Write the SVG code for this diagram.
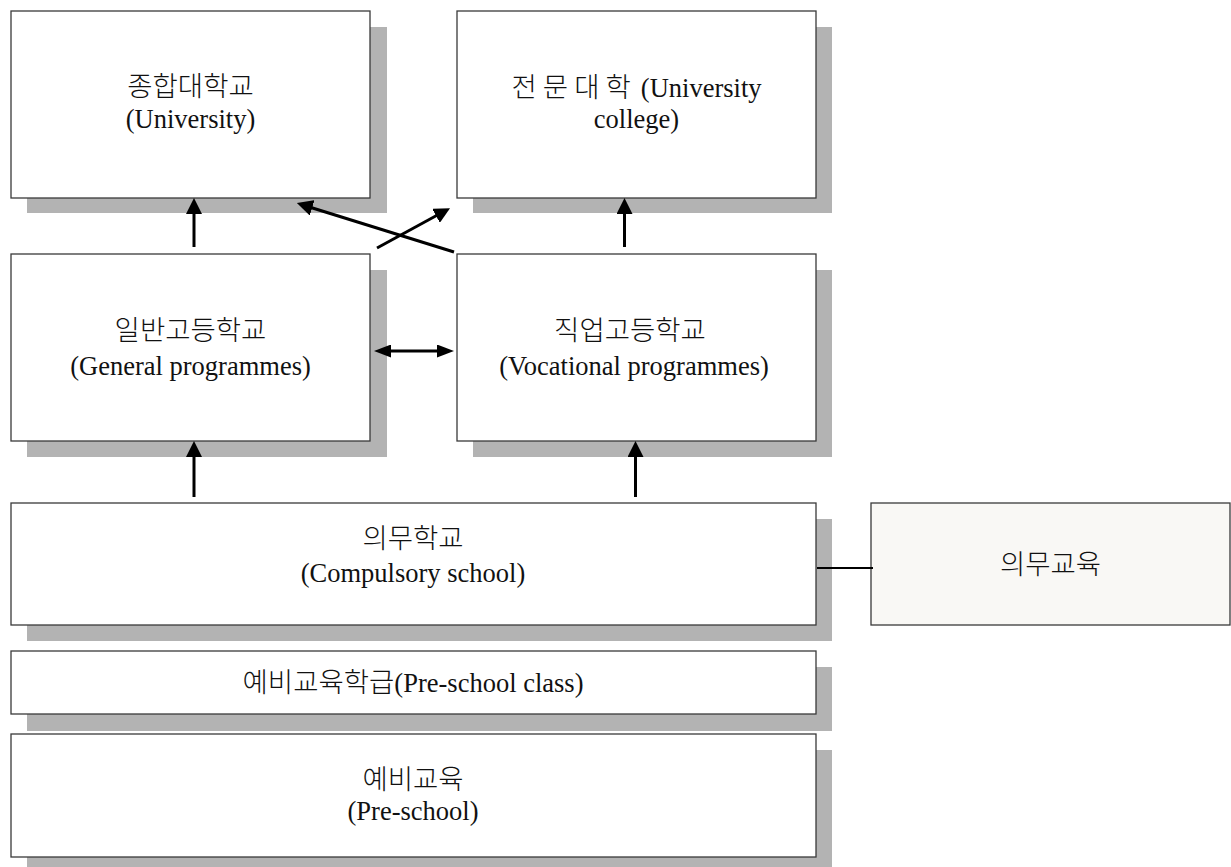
<svg xmlns="http://www.w3.org/2000/svg" width="1231" height="867" viewBox="0 0 1231 867">
<style>
.box{fill:#ffffff;stroke:#3a3a3a;stroke-width:1.3}
.sh{fill:#b3b3b3}
.t{font-family:"Liberation Serif","Noto Sans CJK KR",serif;font-size:26.5px;fill:#111;text-anchor:middle}
.k{font-family:"Noto Sans CJK KR",sans-serif;font-weight:300;font-size:27.5px;fill:#111;text-anchor:middle}
.ks{font-family:"Noto Sans CJK KR",sans-serif;font-weight:300;font-size:27.5px}
.ar{stroke:#000;stroke-width:3;fill:none}
</style>
<defs>
<marker id="ah" viewBox="0 0 16 16" refX="8" refY="8" markerWidth="16" markerHeight="16" markerUnits="userSpaceOnUse" orient="auto-start-reverse">
<path d="M0,0 L16,8 L0,16 z" fill="#000"/>
</marker>
<marker id="ah2" viewBox="0 0 17 13" refX="8" refY="6.5" markerWidth="17" markerHeight="13" markerUnits="userSpaceOnUse" orient="auto-start-reverse">
<path d="M0,0 L17,6.5 L0,13 z" fill="#000"/>
</marker>
</defs>
<g id="university">
<rect class="sh" x="27" y="27" width="360" height="186"/>
<rect class="box" x="11" y="11" width="359" height="187"/>
<text class="k" x="190.5" y="96">종합대학교</text>
<text class="t" x="190.5" y="128">(University)</text>
</g>
<g id="university-college">
<rect class="sh" x="473" y="27" width="359" height="186"/>
<rect class="box" x="457" y="11" width="359" height="187"/>
<text class="t" x="636.5" y="97"><tspan class="ks">전 문 대 학</tspan><tspan dx="10">(University</tspan></text>
<text class="t" x="636.5" y="128">college)</text>
</g>
<g id="general">
<rect class="sh" x="27" y="270" width="360" height="187"/>
<rect class="box" x="11" y="254" width="359" height="187"/>
<text class="k" x="190.5" y="340">일반고등학교</text>
<text class="t" x="190.5" y="375">(General programmes)</text>
</g>
<g id="vocational">
<rect class="sh" x="473" y="270" width="359" height="187"/>
<rect class="box" x="457" y="254" width="359" height="187"/>
<text class="k" x="630" y="340">직업고등학교</text>
<text class="t" x="634" y="375">(Vocational programmes)</text>
</g>
<g id="compulsory">
<rect class="sh" x="27" y="519" width="805" height="122"/>
<rect class="box" x="11" y="503" width="805" height="122"/>
<text class="k" x="413" y="548">의무학교</text>
<text class="t" x="413" y="582">(Compulsory school)</text>
</g>
<g id="compulsory-education">
<rect x="871" y="503" width="359" height="122" fill="#f9f8f5" stroke="#3a3a3a" stroke-width="1.3"/>
<text class="k" x="1050.5" y="574">의무교육</text>
</g>
<g id="preschool-class">
<rect class="sh" x="27" y="667" width="805" height="64"/>
<rect class="box" x="11" y="651" width="805" height="63"/>
<text class="t" x="413" y="692"><tspan class="ks">예비교육학급</tspan>(Pre-school class)</text>
</g>
<g id="preschool">
<rect class="sh" x="27" y="750" width="805" height="117"/>
<rect class="box" x="11" y="734" width="805" height="123"/>
<text class="k" x="413" y="789">예비교육</text>
<text class="t" x="413" y="820">(Pre-school)</text>
</g>
<g id="connectors">
<line class="ar" x1="194" y1="247" x2="194" y2="206" marker-end="url(#ah)"/>
<line class="ar" x1="624.5" y1="247" x2="624.5" y2="206" marker-end="url(#ah)"/>
<line class="ar" x1="194" y1="497" x2="194" y2="449" marker-end="url(#ah)"/>
<line class="ar" x1="635.5" y1="497" x2="635.5" y2="449" marker-end="url(#ah)"/>
<line class="ar" x1="383" y1="351" x2="445" y2="351" marker-start="url(#ah2)" marker-end="url(#ah2)"/>
<line class="ar" x1="454" y1="252" x2="304.5" y2="205.5" marker-end="url(#ah)"/>
<line class="ar" x1="377" y1="248" x2="443" y2="212" marker-end="url(#ah)"/>
<line x1="817" y1="568" x2="873" y2="568" stroke="#000" stroke-width="2"/>
</g>
</svg>
